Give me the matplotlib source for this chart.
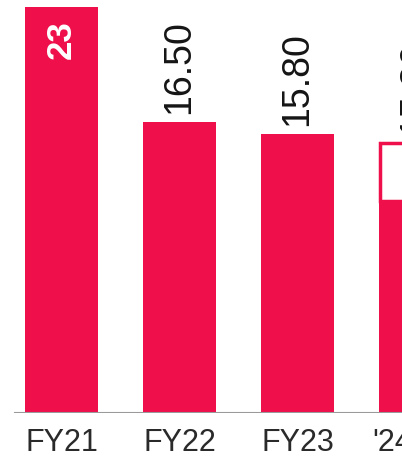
import matplotlib.pyplot as plt

categories = ['FY21', 'FY22', 'FY23', "'24"]
values = [23.0, 16.5, 15.8, 12.0]
extra = [0, 0, 0, 3.3]
labels = ['23', '16.50', '15.80', '15.30']

RED = '#EE0F4B'
FONT = 'Liberation Sans'

fig = plt.figure(figsize=(4.021, 4.621), dpi=100)
ax = fig.add_axes([0, 49 / 462, 1, 413 / 462])

x = list(range(len(categories)))
ax.bar(x, values, width=0.62, color=RED, zorder=2)
# hollow top segment on the last bar
ax.bar(x[3], extra[3], bottom=values[3], width=0.60, facecolor='white',
       edgecolor=RED, linewidth=2.5, zorder=3)

ax.set_xticks([])
ax.set_yticks([])
ax.set_xlim(-61.5 / 118, (402 - 61.5) / 118)
ax.set_ylim(0, 23 * 413 / 406)
ax.axhline(0, xmin=15 / 402, xmax=1, color='#9a9a9a', linewidth=1.5, zorder=4)

# category labels drawn as text so the last (cropped) one still shows
for i, cat in enumerate(categories):
    last = i == len(categories) - 1
    ax.annotate(cat, xy=(i, 0), xycoords=('data', 'axes fraction'),
                xytext=(-31 if last else 0, -11), textcoords='offset points',
                ha='left' if last else 'center', va='top',
                fontsize=22, color='#2a2a2a', family=FONT, annotation_clip=False)

for i, (lab, v, e) in enumerate(zip(labels, values, extra)):
    top = v + e
    if i == 0:
        ax.text(i, top - 0.75, lab, rotation=90, ha='center', va='top',
                color='white', fontsize=25, fontweight='bold', family=FONT)
    else:
        ax.text(i, top + 0.45, lab, rotation=90, ha='center', va='bottom',
                color='#151515', fontsize=27, family=FONT)

for s in ax.spines.values():
    s.set_visible(False)

fig.savefig('out.png', dpi=100)
